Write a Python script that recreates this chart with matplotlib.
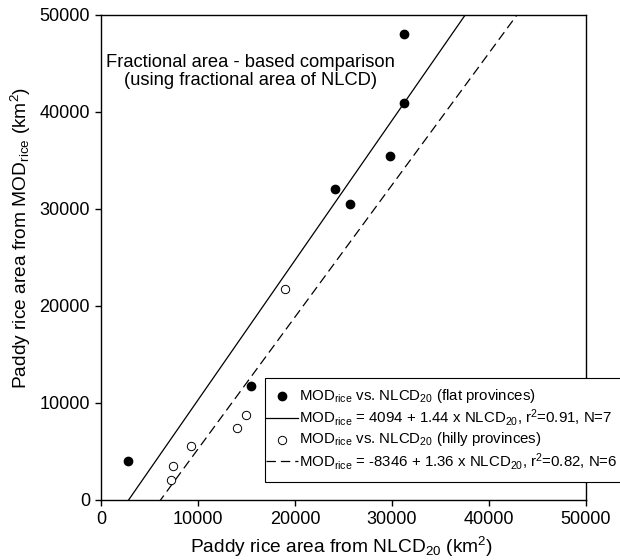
import numpy as np
import matplotlib
matplotlib.use("Agg")
import matplotlib.pyplot as plt
from matplotlib.patches import Rectangle

plt.rcParams['font.family'] = ['Liberation Sans', 'DejaVu Sans']
plt.rcParams['mathtext.fontset'] = 'custom'
plt.rcParams['mathtext.rm'] = 'Liberation Sans'
plt.rcParams['mathtext.it'] = 'Liberation Sans:italic'

# paddy rice area (km2): NLCD20 vs MODIS estimate
flat_nlcd = [2800, 15500, 24100, 25700, 29800, 31200, 31200]
flat_mod = [4000, 11700, 32000, 30500, 35400, 40900, 48000]
hilly_nlcd = [7200, 7450, 9300, 14000, 14900, 19000]
hilly_mod = [2100, 3500, 5600, 7450, 8750, 21750]

# regression lines (intercept, slope)
flat_fit = (-4094, 1.44)
hilly_fit = (-8346, 1.36)

ticks = [0, 10000, 20000, 30000, 40000, 50000]

fig = plt.figure(figsize=(6.2, 5.6), dpi=100)
ax = fig.add_axes([101/620, 60/560, 485/620, 485.3/560])

xx = np.array([0, 50000])
l1, = ax.plot(xx, flat_fit[0] + flat_fit[1]*xx, color='black', lw=0.9)
l2, = ax.plot(xx, hilly_fit[0] + hilly_fit[1]*xx, color='black', lw=0.9,
              dashes=(7.5, 4))
s1 = ax.scatter(flat_nlcd, flat_mod, s=36, color='black', zorder=3)
s2 = ax.scatter(hilly_nlcd, hilly_mod, s=36, facecolor='white',
                edgecolor='black', linewidth=0.7, zorder=3)

ax.set_xlim(0, 50000)
ax.set_ylim(0, 50000)
ax.set_xticks(ticks)
ax.set_yticks(ticks)
ax.tick_params(direction='out', length=4, width=1, labelsize=13,
               top=False, right=False, pad=4)
for sp in ax.spines.values():
    sp.set_linewidth(1)

fig.text(342/620, 1 - 547/560, r"Paddy rice area from $\mathrm{NLCD_{20}}$ (km$^\mathrm{2}$)",
         ha='center', va='center', fontsize=13.8)
fig.text(21/620, 1 - 238/560, r"Paddy rice area from $\mathrm{MOD_{rice}}$ (km$^\mathrm{2}$)",
         ha='center', va='center', rotation=90, fontsize=13.8)

ax.text(15400, 44150, "Fractional area - based comparison\n(using fractional area of NLCD)",
        ha='center', va='center', multialignment='center', fontsize=13.2,
        linespacing=1.05)

# legend box runs past the right edge of the figure
box = Rectangle((265/620, (560 - 482)/560), 400/620, 104/560,
                transform=fig.transFigure, facecolor='white',
                edgecolor='black', linewidth=0.8, zorder=4)
fig.add_artist(box)

labels = [
    r"$\mathrm{MOD_{rice}}$ vs. $\mathrm{NLCD_{20}}$ (flat provinces)",
    r"$\mathrm{MOD_{rice}}$ = 4094 + 1.44 x $\mathrm{NLCD_{20}}$, $\mathrm{r^2}$=0.91, N=7",
    r"$\mathrm{MOD_{rice}}$ vs. $\mathrm{NLCD_{20}}$ (hilly provinces)",
    r"$\mathrm{MOD_{rice}}$ = -8346 + 1.36 x $\mathrm{NLCD_{20}}$, $\mathrm{r^2}$=0.82, N=6",
]
leg = fig.legend([s1, l1, s2, l2], labels, loc='upper left',
                 bbox_to_anchor=(266/620, 1 - 387/560), borderaxespad=0,
                 fontsize=10.8, frameon=False, handlelength=2.1,
                 handletextpad=0.07, borderpad=0, labelspacing=0.15,
                 scatterpoints=1)

fig.savefig("out.png", dpi=100)
